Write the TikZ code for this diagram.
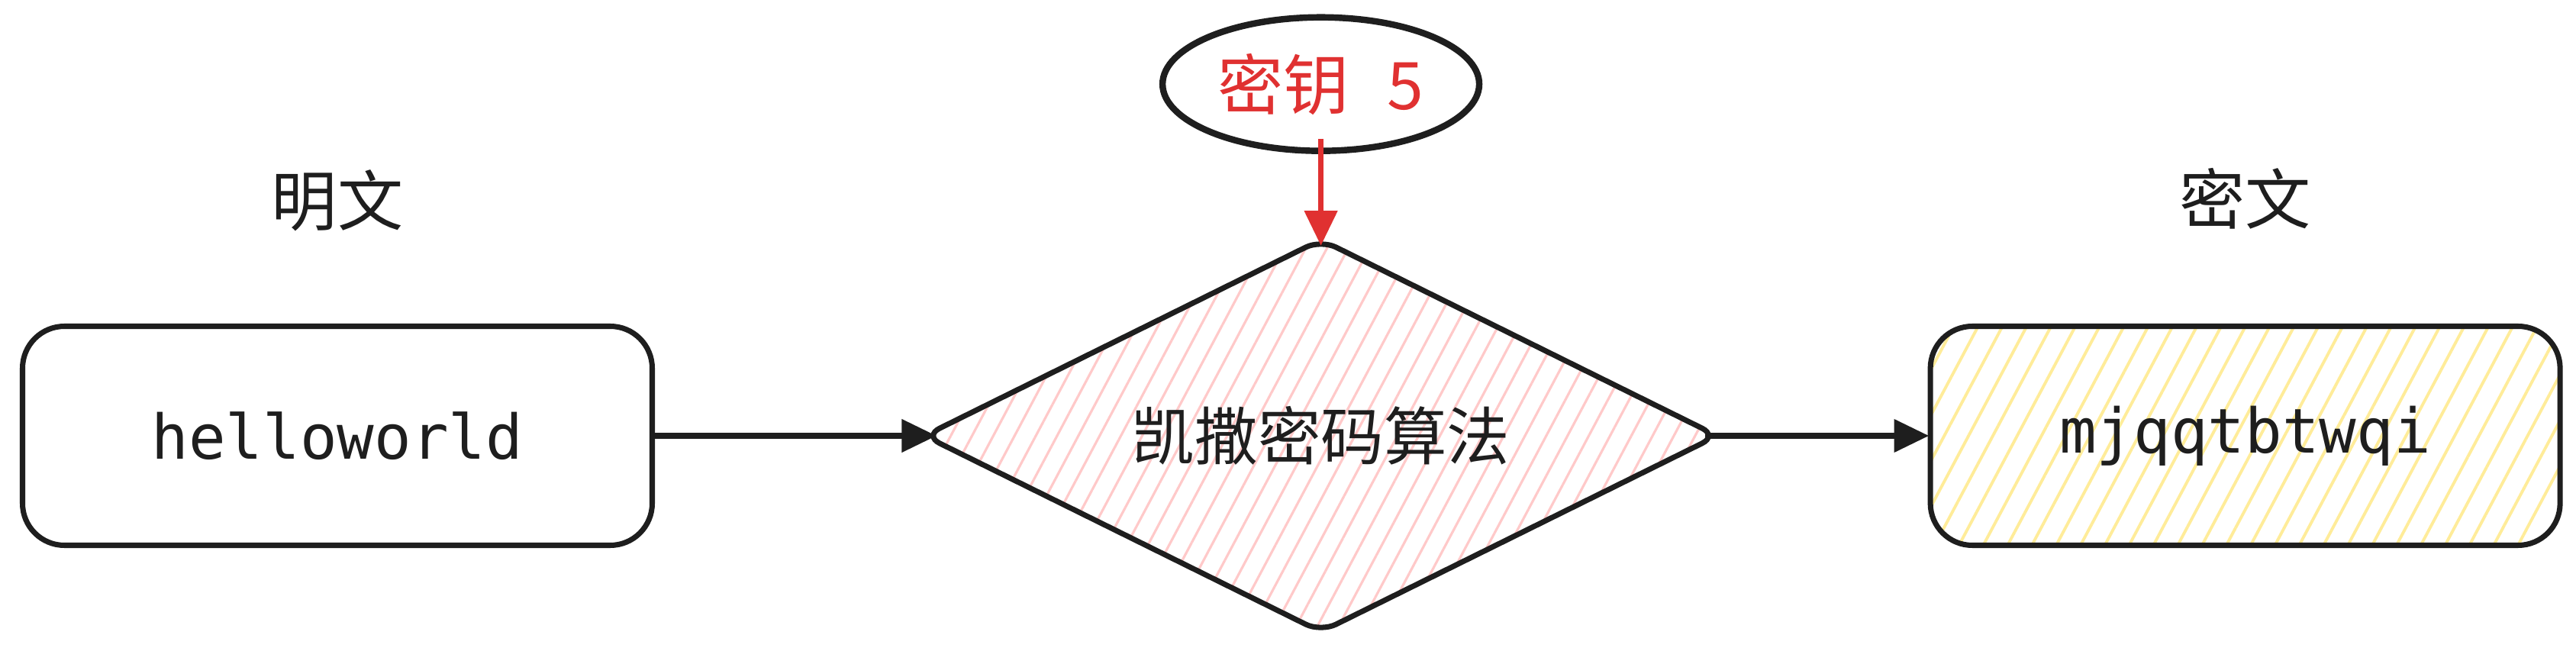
\documentclass[tikz,border=0pt]{standalone}
\usepackage{fontspec}
\setmonofont{DejaVu Sans Mono}
\newfontfamily\cjk{Noto Sans CJK SC}
\usepackage{xcolor}
\definecolor{inkblack}{HTML}{1E1E1E}
\definecolor{keyred}{HTML}{E03131}
\definecolor{hatchred}{HTML}{FFC9C9}
\definecolor{hatchyellow}{HTML}{FFEC99}
\usetikzlibrary{shapes.geometric, arrows.meta, positioning, patterns.meta}
\tikzset{
  cbox/.style ={rectangle, rounded corners=0.55cm, draw=inkblack, line width=2pt, text=inkblack,
                minimum width=8.25cm, minimum height=2.87cm, font=\ttfamily\fontsize{23}{28}\selectfont},
  cboxy/.style={cbox, pattern={Lines[angle=62, distance=8pt, line width=1.1pt]}, pattern color=hatchyellow},
  cdia/.style ={diamond, aspect=2, rounded corners=0.22cm, draw=inkblack, line width=2pt, inner sep=0pt,
                minimum width=10.4cm, minimum height=5.15cm, text=inkblack,
                pattern={Lines[angle=62, distance=7pt, line width=0.9pt]}, pattern color=hatchred,
                font=\cjk\fontsize{23.5}{28}\selectfont},
  ckey/.style ={ellipse, draw=inkblack, line width=2.4pt, minimum width=4cm, minimum height=1.75cm,
                text=keyred, font=\cjk\fontsize{24.5}{28}\selectfont},
  clbl/.style ={inner sep=0pt, text=inkblack, font=\cjk\fontsize{24.5}{28}\selectfont},
  carr/.style ={-{Triangle[length=13pt, width=12pt]}, line width=2pt, color=inkblack},
  carrr/.style={carr, color=keyred},
}
\begin{document}
\begin{tikzpicture}
  \fill[white] (0,0) rectangle (33.75,-8.70);
  \useasboundingbox (0,0) rectangle (33.75,-8.70);
  \node[cbox] (plain) at (4.42,-5.71) {helloworld};
  \node[cdia, right=3.51cm of plain] (algo) {凯撒密码算法};
  \node[cboxy, right=2.75cm of algo] (cipher) {mjqqtbtwqi};
  \node[ckey, above=1.1cm of algo] (key) {密钥\hspace{0.58em}5};
  \node[clbl, above=1.2cm of plain] (plbl) {明文};
  \node[clbl, above=1.25cm of cipher] (clbl) {密文};
  \draw[carr] (plain) -- ([xshift=0.18cm]algo.west);
  \draw[carr] ([xshift=-0.18cm]algo.east) -- (cipher);
  \draw[carrr] ([yshift=0.2cm]key.south) -- ([yshift=-0.1cm]algo.north);
\end{tikzpicture}
\end{document}
